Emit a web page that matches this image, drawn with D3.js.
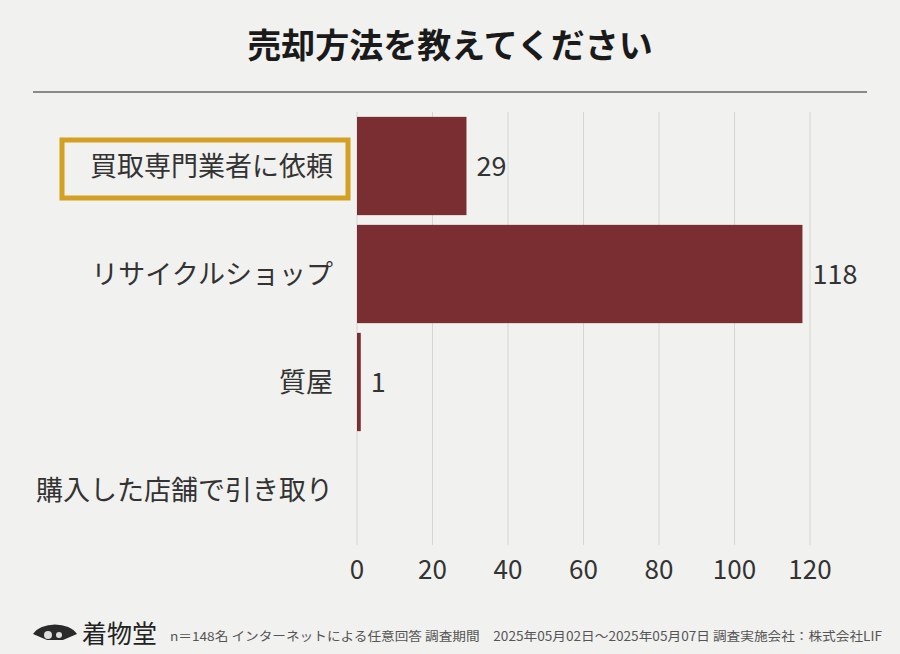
<!DOCTYPE html>
<html><head><meta charset="utf-8">
<script src="https://cdn.jsdelivr.net/npm/d3@7"></script>
<style>body{margin:0;background:#f1f1ef;font-family:"Noto Sans CJK JP",sans-serif}</style>
</head><body><div id="chart"></div>
<script>
const categories = ['買取専門業者に依頼', 'リサイクルショップ', '質屋', '購入した店舗で引き取り'];
const values = [29, 118, 1, 0];
const ticks = [0, 20, 40, 60, 80, 100, 120];

const width = 900, height = 654;
const svg = d3.select('#chart').append('svg').attr('width', width).attr('height', height);
svg.append('rect').attr('width', width).attr('height', height).attr('fill', '#f1f1ef');

svg.append('text').attr('x', 450).attr('y', 58).attr('text-anchor', 'middle')
  .attr('font-size', 34).attr('font-weight', 700).attr('fill', '#1a1a1a').text('売却方法を教えてください');
svg.append('line').attr('x1', 33).attr('x2', 867).attr('y1', 92).attr('y2', 92).attr('stroke', '#222').attr('stroke-width', 1);

const x = d3.scaleLinear().domain([0, 120]).range([357, 810]);
const y = d3.scaleBand().domain(categories).range([112, 544]).paddingInner(0.09).paddingOuter(0.045);

svg.append('g').selectAll('line').data(ticks).join('line')
  .attr('x1', d => x(d)).attr('x2', d => x(d)).attr('y1', 112).attr('y2', 545)
  .attr('stroke', '#d6d6d4').attr('stroke-width', 1);

svg.append('g').selectAll('text').data(ticks).join('text')
  .attr('x', d => x(d)).attr('y', 579).attr('text-anchor', 'middle')
  .attr('font-size', 26).attr('fill', '#333').text(d => d);

svg.append('g').selectAll('rect').data(categories).join('rect')
  .attr('x', x(0)).attr('y', d => y(d)).attr('height', y.bandwidth())
  .attr('width', (d, i) => x(values[i]) - x(0)).attr('fill', '#7a2e32');

svg.append('g').selectAll('text').data(categories.filter((d, i) => values[i] > 0)).join('text')
  .attr('x', d => x(values[categories.indexOf(d)]) + 10).attr('y', d => y(d) + y.bandwidth() / 2 + 10)
  .attr('font-size', 27).attr('fill', '#333').text(d => values[categories.indexOf(d)]);

svg.append('rect').attr('x', 62).attr('y', 140).attr('width', 286).attr('height', 58)
  .attr('fill', 'none').attr('stroke', '#d4a022').attr('stroke-width', 5);

svg.append('g').selectAll('text').data(categories).join('text')
  .attr('x', 333).attr('y', d => y(d) + y.bandwidth() / 2 + 10).attr('text-anchor', 'end')
  .attr('font-size', 27).attr('fill', '#333').text(d => d);

// footer
const logo = svg.append('g').attr('transform', 'translate(55,634)');
logo.append('path').attr('d', 'M-22,0 A24,16 0 0 1 22,0 L8,6 L-8,6 Z').attr('fill', '#2a2a2a');
logo.append('circle').attr('cx', -7).attr('cy', 1).attr('r', 4).attr('fill', '#ddd');
logo.append('circle').attr('cx', 4).attr('cy', 1).attr('r', 3).attr('fill', '#ddd');
svg.append('text').attr('x', 82).attr('y', 643).attr('font-size', 25).attr('fill', '#222').text('着物堂');
svg.append('text').attr('x', 170).attr('y', 641).attr('font-size', 12.5).attr('fill', '#555')
  .attr('textLength', 712).attr('lengthAdjust', 'spacingAndGlyphs')
  .text('n＝148名 インターネットによる任意回答 調査期間　2025年05月02日～2025年05月07日 調査実施会社：株式会社LIF');
</script></body></html>
